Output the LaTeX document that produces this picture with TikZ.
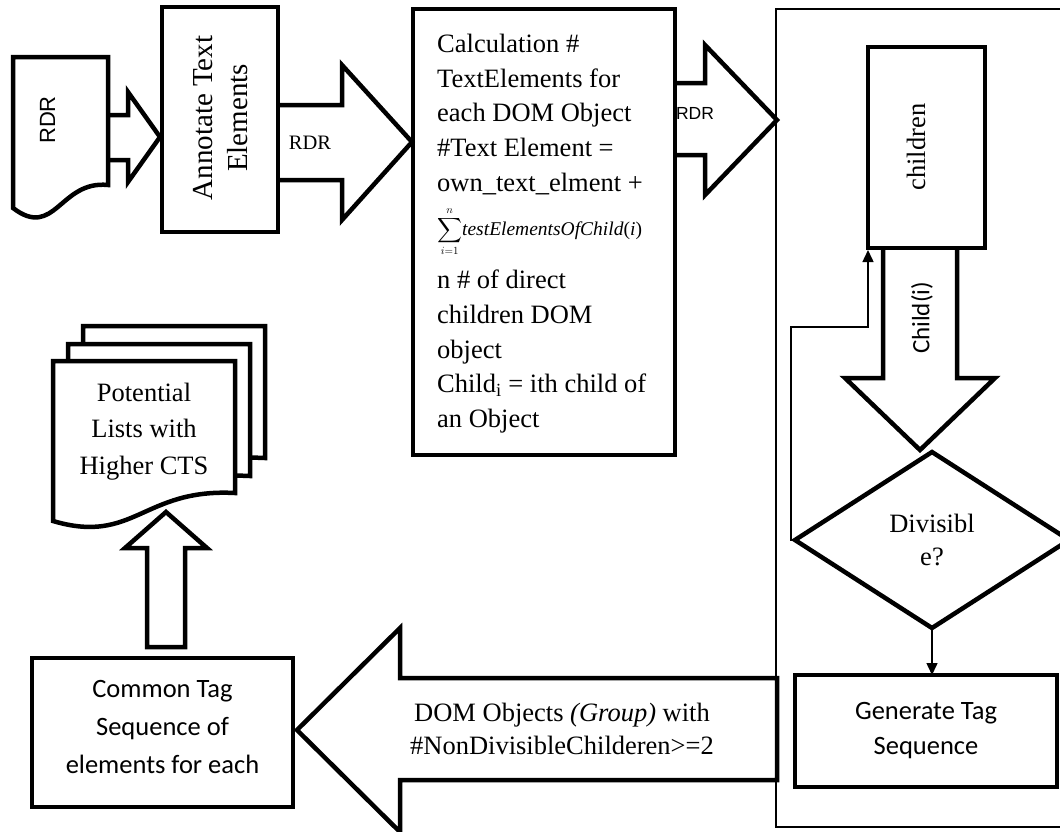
\documentclass[tikz,border=0pt]{standalone}
\usepackage{amsmath}
\usepackage{fontspec}
\setmainfont{Liberation Serif}
\newfontfamily\carlito{Carlito}
\newfontfamily\arialish{Liberation Sans}
\usetikzlibrary{shapes.geometric,arrows.meta,calc}
\begin{document}
\begin{tikzpicture}[x=1pt,y=-1pt,
  boxst/.style={draw, line width=4.5pt, inner sep=0pt, outer sep=0pt},
  blockarr/.style={draw, fill=white, line width=4.5pt},
  docst/.style={draw, fill=white, line width=4.5pt},
  flowln/.style={line width=1.5pt, -{Triangle[length=12pt,width=11pt]}},
  fserif/.style={font=\fontsize{26.5}{34.7}\selectfont},
  txt/.style={inner sep=0pt, outer sep=0pt, align=center}
]
\useasboundingbox (0,0) rectangle (1060,831);
\clip (0,0) rectangle (1060,831);
\fill[white] (0,0) rectangle (1060,831);

% container frame
\node[draw, line width=2pt, inner sep=0pt, minimum width=310, minimum height=818, anchor=north west] (frame) at (775,8) {};

% ---- block arrows (open ends drawn first, boxes on top) ----
\path[blockarr] (106,115) -- (128,115) -- (128,92) -- (160,137) -- (128,182) -- (128,160) -- (106,160);
\path[blockarr] (276,105) -- (342,105) -- (342,65) -- (412,142) -- (342,220) -- (342,180) -- (276,180);
\path[blockarr] (673,83) -- (705,83) -- (705,45) -- (777,120) -- (705,195) -- (705,155) -- (673,155);
\path[blockarr] (883,246) -- (883,378) -- (845,378) -- (920,450) -- (995,378) -- (957,378) -- (957,246);

% ---- RDR document ----
\path[docst] (13,57) -- (108,57) -- (108,185) .. controls (60,180) and (55,240) .. (13,208) -- cycle;
\node[txt, rotate=90, font=\arialish\fontsize{22}{26}\selectfont] (rdrdoc) at (47.5,120) {RDR};

% ---- Annotate box ----
\node[boxst, minimum width=116, minimum height=225] (annot) at (220,119.5) {};
\node[txt, rotate=90, font=\fontsize{29}{35}\selectfont] (annottext) at (220.5,118) {Annotate Text\\Elements};
\node[txt, font=\fontsize{20.5}{24}\selectfont] (rdrlbl) at (310,142.5) {RDR};

% ---- Calculation box ----
\node[boxst, minimum width=262, minimum height=446] (calc) at (544,232) {};
\node[inner sep=0pt, anchor=north west, align=left, fserif] (calctext) at (437,34)
 {Calculation \#\\TextElements for\\each DOM Object\\\#Text Element =\\own\_text\_elment +\\[9pt]%
 {\fontsize{16}{16}\selectfont\smash{$\displaystyle\sum_{i=1}^{n}$}}{\fontsize{19.5}{20}\selectfont\textit{testElementsOfChild}(\textit{i})}\\[19pt]%
 n \# of direct\\children DOM\\object\\Child\textsubscript{i} = ith child of\\an Object};
\node[txt, font=\arialish\fontsize{17.5}{20}\selectfont] (rdrlbl2) at (695,113.5) {RDR};

% ---- right side flow ----
\node[boxst, fill=white, minimum width=117, minimum height=201] (kids) at (926.5,147.5) {};
\node[txt, rotate=90, fserif] (kidstext) at (916,147) {children};
\node[txt, rotate=90, font=\carlito\fontsize{25}{28}\selectfont] (childi) at (922,318) {Child(i)};

\node[diamond, draw, fill=white, line width=4.5pt, inner sep=0pt, outer sep=0pt, aspect=1.557,
      minimum width=274, minimum height=176, align=center, font=\fontsize{26.5}{33}\selectfont] (div) at (932,540) {Divisibl\\e?};

\node[boxst, minimum width=262, minimum height=112, align=center, font=\carlito\fontsize{26.5}{35}\selectfont] (gen) at (926,731) {Generate Tag\\Sequence};

\draw[flowln] (div.south) -- (div.south |- gen.north);
\draw[flowln, shorten >=2pt] (div.west) -- ++(-4,0) -- ++(0,-213) -| (kids.south west);

% ---- bottom big arrow ----
\path[blockarr, line join=miter] (777,678) -- (400,678) -- (400,628) -- (297,730) -- (400,832) -- (400,780) -- (777,780) -- cycle;
\node[txt, font=\fontsize{26.5}{33}\selectfont] (domtext) at (562,729) {DOM Objects \textit{(Group)} with\\\#NonDivisibleChilderen>=2};

% ---- common tag box ----
\node[boxst, minimum width=261, minimum height=149] (common) at (162.5,732.5) {};
\node[txt, font=\carlito\fontsize{26.5}{38}\selectfont] (commontext) at (162.5,727) {Common Tag\\Sequence of\\elements for each};

% ---- up arrow ----
\path[blockarr] (147,647) -- (147,548) -- (125,548) -- (166,512) -- (207,548) -- (185,548) -- (185,647) -- cycle;

% ---- potential lists document stack ----
\begin{scope}[shift={(30,-35)}]
\path[docst] (53,361) -- (235,361) -- (235,493) .. controls (143,488) and (134,545) .. (53,521) -- cycle;
\end{scope}
\begin{scope}[shift={(15,-17)}]
\path[docst] (53,361) -- (235,361) -- (235,493) .. controls (143,488) and (134,545) .. (53,521) -- cycle;
\end{scope}
\path[docst] (53,361) -- (235,361) -- (235,493) .. controls (143,488) and (134,545) .. (53,521) -- cycle;
\node[txt, font=\fontsize{26.5}{36.5}\selectfont] (pottext) at (144,431.5) {Potential\\Lists with\\Higher CTS};

\end{tikzpicture}
\end{document}
